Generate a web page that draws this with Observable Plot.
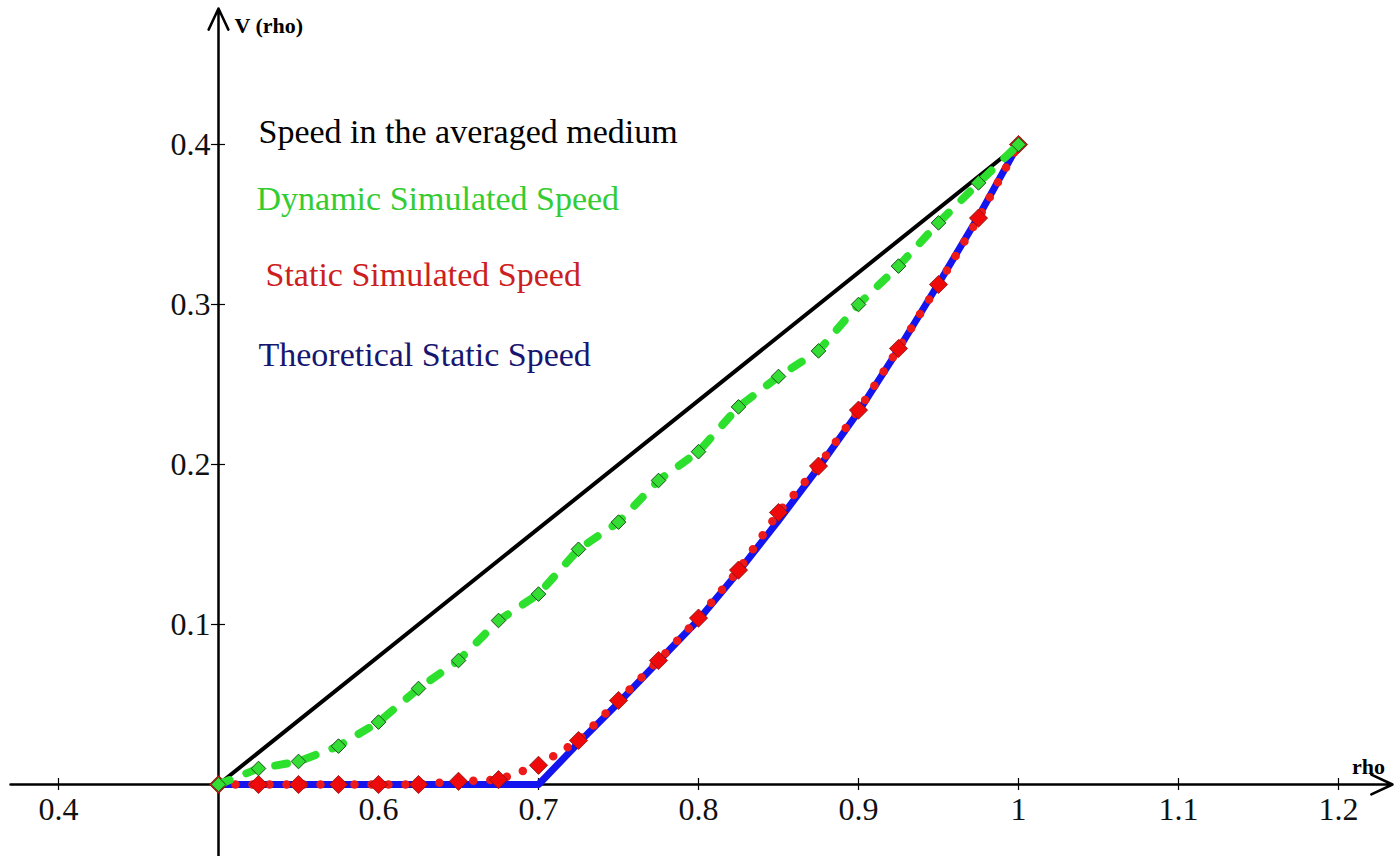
<!DOCTYPE html>
<html>
<head>
<meta charset="utf-8">
<script src="https://cdn.jsdelivr.net/npm/d3@7"></script>
<script src="https://cdn.jsdelivr.net/npm/@observablehq/plot@0.6"></script>
<style>
  html, body { margin: 0; padding: 0; background: #fff; }
  #chart svg { display: block; }
</style>
</head>
<body>
<div id="chart"></div>
<script>
// ---- data ----
const rho = [0.5,0.525,0.55,0.575,0.6,0.625,0.65,0.675,0.7,0.725,0.75,0.775,0.8,0.825,0.85,0.875,0.9,0.925,0.95,0.975,1.0];
const dynamicSpeed = [0,0.010,0.0144,0.024,0.039,0.060,0.0775,0.1025,0.119,0.147,0.164,0.19,0.208,0.236,0.255,0.271,0.30,0.324,0.351,0.376,0.40];
const staticSpeed = [0,0,0,0,0,0,0.002,0.003,0.012,0.0275,0.0525,0.0775,0.104,0.134,0.17,0.199,0.234,0.2725,0.3125,0.354,0.40];
const theoRho = [0.5,0.7,0.725,0.75,0.775,0.8,0.825,0.85,0.875,0.9,0.925,0.95,0.975,1.0];
const theoSpeed = [0,0,0.026,0.051,0.077,0.103,0.133,0.165,0.198,0.233,0.272,0.313,0.355,0.40];
const avgRho = [0.5, 1.0];
const avgSpeed = [0, 0.40];
const xTicks = [0.4,0.6,0.7,0.8,0.9,1,1.1,1.2];
const yTicks = [0.1,0.2,0.3,0.4];
const legendLabels = ["Speed in the averaged medium","Dynamic Simulated Speed","Static Simulated Speed","Theoretical Static Speed"];
const legendColors = ["#000000","#33cc33","#cc2020","#161670"];

// ---- tables ----
const dyn = rho.map((r,i) => ({rho: r, v: dynamicSpeed[i]}));
const sta = rho.map((r,i) => ({rho: r, v: staticSpeed[i]}));
const theo = theoRho.map((r,i) => ({rho: r, v: theoSpeed[i]}));
const avg = avgRho.map((r,i) => ({rho: r, v: avgSpeed[i]}));

const W = 1394, H = 856;
const k = 1600; // pixels per unit, both axes
const xDomain = [0.5 - 218/k, 0.5 + (W-218)/k];
const yDomain = [-(H-784)/k, 784/k];
const serif = "Liberation Serif, Times New Roman, serif";
const legendPos = [[258,118],[256,185],[265,261],[258,341]];

const chart = Plot.plot({
  width: W, height: H,
  margin: 0,
  x: {domain: xDomain, range: [0, W], axis: null},
  y: {domain: yDomain, range: [H, 0], axis: null},
  style: {fontFamily: serif, background: "#fff"},
  marks: [
    // axes
    Plot.arrow([{x1: xDomain[0] + 10/k, x2: xDomain[1] - 2/k}], {x1: "x1", x2: "x2", y1: 0, y2: 0, stroke: "#000", strokeWidth: 2.5, headLength: 14, headAngle: 50}),
    Plot.arrow([{y1: yDomain[0], y2: yDomain[1] - 8/k}], {x1: 0.5, x2: 0.5, y1: "y1", y2: "y2", stroke: "#000", strokeWidth: 2.5, headLength: 14, headAngle: 50}),
    Plot.ruleX(xTicks, {x: d => d, y1: -6/k, y2: 6/k, stroke: "#000", strokeWidth: 1.2}),
    Plot.ruleY(yTicks, {y: d => d, x1: 0.5 - 7/k, x2: 0.5 + 7/k, stroke: "#000", strokeWidth: 1.2}),
    Plot.text(xTicks, {x: d => d, y: 0, text: d => String(d), dy: 25, fontSize: 32, fill: "#111", fontFamily: serif}),
    Plot.text(yTicks, {x: 0.5, y: d => d, text: d => String(d), dx: -8, textAnchor: "end", fontSize: 32, fill: "#111", fontFamily: serif}),
    Plot.text(["V (rho)"], {x: 0.5, y: yDomain[1], text: d => d, dx: 16, dy: 25, textAnchor: "start", fontSize: 22, fontWeight: "bold", fill: "#000", fontFamily: serif}),
    Plot.text(["rho"], {x: xDomain[1], y: 0, text: d => d, dx: -26, dy: -18, textAnchor: "middle", fontSize: 22, fontWeight: "bold", fill: "#000", fontFamily: serif}),
    // theoretical static speed
    Plot.line(theo, {x: "rho", y: "v", stroke: "#1414ee", strokeWidth: 7, strokeLinejoin: "round"}),
    // static simulated speed (dotted)
    Plot.line(sta, {x: "rho", y: "v", stroke: "#ee1a1a", strokeWidth: 8.5, strokeDasharray: "0,17", strokeLinecap: "round"}),
    Plot.dot(sta, {x: "rho", y: "v", symbol: "diamond2", r: 8.2, fill: "#ee0a0a", stroke: "#7a1010", strokeWidth: 0.8}),
    // averaged medium
    Plot.line(avg, {x: "rho", y: "v", stroke: "#000", strokeWidth: 4}),
    // dynamic simulated speed (dashed)
    Plot.line(dyn, {x: "rho", y: "v", stroke: "#2ee02e", strokeWidth: 8, strokeDasharray: "12,18", strokeLinecap: "round"}),
    Plot.dot(dyn, {x: "rho", y: "v", symbol: "diamond2", r: 6.6, fill: "#33dd33", stroke: "#1f4a1f", strokeWidth: 1}),
    // legend labels
    ...legendLabels.map((t, i) => Plot.text([t], {
      frameAnchor: "top-left", dx: legendPos[i][0], dy: legendPos[i][1],
      text: d => d, fill: legendColors[i], textAnchor: "start", fontSize: 34, fontFamily: serif
    }))
  ]
});
document.getElementById("chart").appendChild(chart);
</script>
</body>
</html>
